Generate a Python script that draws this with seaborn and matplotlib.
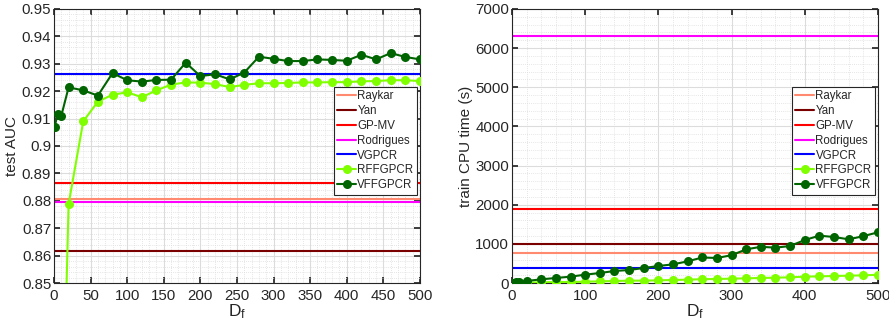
import numpy as np
import pandas as pd
import matplotlib
matplotlib.use('Agg')
import matplotlib.pyplot as plt
from matplotlib.ticker import MultipleLocator
import seaborn as sns

# feature dimension D_f
df_values = [1, 5, 10, 20, 40, 60, 80, 100, 120, 140, 160, 180, 200, 220, 240,
             260, 280, 300, 320, 340, 360, 380, 400, 420, 440, 460, 480, 500]

# test AUC
auc_rffgpcr = [0.65, 0.70, 0.773, 0.8788, 0.9090, 0.9162, 0.9187, 0.9196, 0.9178, 0.9203,
               0.9224, 0.9232, 0.9231, 0.9226, 0.9215, 0.9223, 0.9229, 0.9229, 0.9230,
               0.9232, 0.9232, 0.9233, 0.9233, 0.9236, 0.9237, 0.9240, 0.9240, 0.9237]
auc_vffgpcr = [0.9071, 0.9117, 0.9110, 0.9214, 0.9203, 0.9184, 0.9266, 0.9240, 0.9235,
               0.9241, 0.9242, 0.9304, 0.9255, 0.9262, 0.9243, 0.9268, 0.9326, 0.9318,
               0.9310, 0.9310, 0.9316, 0.9314, 0.9311, 0.9333, 0.9316, 0.9339, 0.9325, 0.9316]
auc_baselines = {'Raykar': 0.8806, 'Yan': 0.8616, 'GP-MV': 0.8866,
                 'Rodrigues': 0.8797, 'VGPCR': 0.9263}

# train CPU time (s)
time_rffgpcr = [2, 5, 8, 10, 17, 25, 25, 34, 43, 51, 60, 60, 68, 77, 85, 98, 102, 111,
                119, 128, 136, 145, 162, 170, 179, 187, 196, 210]
time_vffgpcr = [9, 26, 34, 51, 94, 128, 162, 213, 255, 307, 332, 383, 434, 477, 553,
                652, 639, 710, 860, 925, 903, 945, 1099, 1209, 1175, 1116, 1197, 1295]
time_baselines = {'Raykar': 765, 'Yan': 986, 'GP-MV': 1889,
                  'Rodrigues': 6320, 'VGPCR': 382}

colors = {'Raykar': '#FF8A70', 'Yan': '#7A0000', 'GP-MV': '#FF0000',
          'Rodrigues': '#FF00FF', 'VGPCR': '#0000FF',
          'RFFGPCR': '#80FF00', 'VFFGPCR': '#006400'}

sns.set_theme(style='ticks')
plt.rcParams['font.family'] = ['Liberation Sans', 'DejaVu Sans']
plt.rcParams['mathtext.fontset'] = 'custom'
plt.rcParams['mathtext.rm'] = 'Liberation Sans'
plt.rcParams['mathtext.it'] = 'Liberation Sans'


def draw_panel(ax, baselines, rff, vff, ylim, ymajor, yminor, xmajor, xminor, ylabel, yfmt):
    for name, val in baselines.items():
        ax.axhline(val, color=colors[name], lw=1.5, label=name, zorder=2)
    data = pd.DataFrame({'Df': df_values, 'RFFGPCR': rff, 'VFFGPCR': vff})
    for name in ['RFFGPCR', 'VFFGPCR']:
        sns.lineplot(data=data, x='Df', y=name, ax=ax, color=colors[name], lw=1.5,
                     marker='o', markersize=6.5, markeredgewidth=0, label=name, zorder=3)
    ax.set_xlim(0, 500)
    ax.set_ylim(*ylim)
    ax.xaxis.set_major_locator(MultipleLocator(xmajor))
    ax.xaxis.set_minor_locator(MultipleLocator(xminor))
    ax.yaxis.set_major_locator(MultipleLocator(ymajor))
    ax.yaxis.set_minor_locator(MultipleLocator(yminor))
    if yfmt is not None:
        ax.yaxis.set_major_formatter(yfmt)
    ax.grid(which='major', color='#DCDCDC', lw=0.8, ls='-', zorder=0)
    ax.grid(which='minor', color='#DDDDDD', lw=0.6, ls=(0, (1, 1.5)), zorder=0)
    ax.set_axisbelow(True)
    ax.tick_params(which='both', direction='in', top=True, right=True,
                   labelsize=10.8, colors='#262626')
    ax.tick_params(axis='x', pad=4)
    ax.tick_params(axis='y', pad=2)
    ax.tick_params(which='major', length=4)
    ax.tick_params(which='minor', length=0)
    for sp in ax.spines.values():
        sp.set_color('#262626')
        sp.set_linewidth(0.8)
    ax.set_xlabel('D$_\\mathrm{f}$', fontsize=12.5, labelpad=0)
    ax.set_ylabel(ylabel, fontsize=11, labelpad=2)
    leg = ax.legend(loc='upper right', bbox_to_anchor=(0.992, 0.717), fontsize=8.3,
                    frameon=True, fancybox=False, framealpha=1, edgecolor='#262626',
                    handlelength=1.6, handletextpad=0.15, borderpad=0.3,
                    labelspacing=0.25, borderaxespad=0)
    leg.get_frame().set_linewidth(0.8)


fig = plt.figure(figsize=(8.89, 3.22), dpi=100)
ax1 = fig.add_axes([0.0607, 0.1211, 0.4117, 0.851])
ax2 = fig.add_axes([0.5759, 0.1211, 0.4117, 0.851])

auc_fmt = matplotlib.ticker.FuncFormatter(lambda v, p: ('%.2f' % v).rstrip('0') if abs(v - 0.9) < 1e-9 else '%.2f' % v)
draw_panel(ax1, auc_baselines, auc_rffgpcr, auc_vffgpcr, (0.85, 0.95), 0.01, 0.002,
           50, 10, 'test AUC', auc_fmt)
draw_panel(ax2, time_baselines, time_rffgpcr, time_vffgpcr, (0, 7000), 1000, 200,
           100, 20, 'train CPU time (s)', None)

fig.savefig('out.png', dpi=100)
